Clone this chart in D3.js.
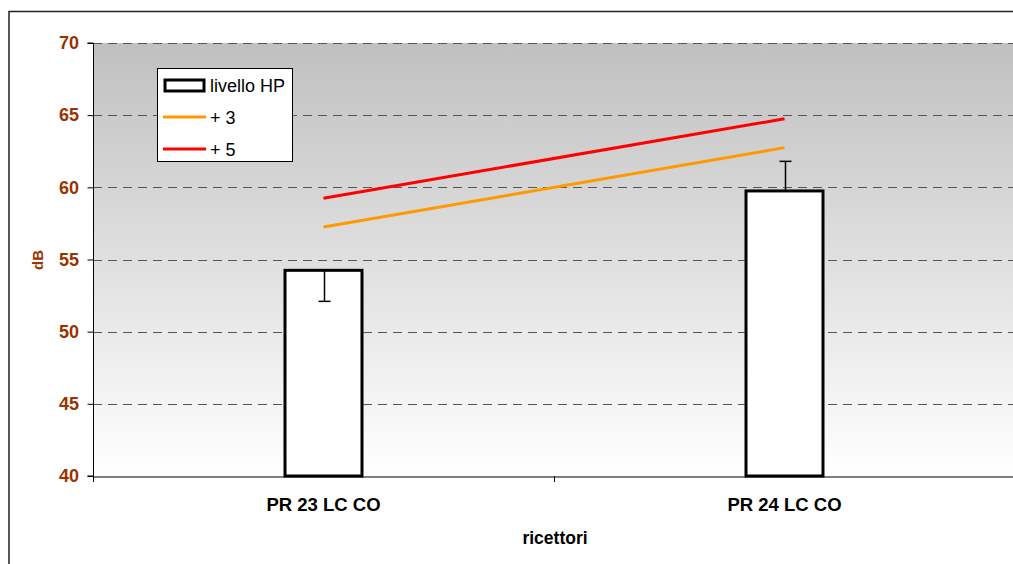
<!DOCTYPE html>
<html><head><meta charset="utf-8">
<script src="https://cdn.jsdelivr.net/npm/d3@7"></script>
<style>body{margin:0;background:#fff}svg{display:block}</style>
</head><body>
<svg id="c" width="1013" height="564"></svg>
<script>
const categories = ["PR 23 LC CO", "PR 24 LC CO"];
const livelloHP = [54.25, 59.75];
const errLow = [2.15, 0];
const errHigh = [0, 2.05];
const plus3 = [57.25, 62.75];
const plus5 = [59.25, 64.75];
const yTicks = [40, 45, 50, 55, 60, 65, 70];

const FONT = "Liberation Sans, Arial, sans-serif";
const svg = d3.select("#c");
const L = 93, R = 1015, T = 43, B = 476;
const x = d3.scaleBand().domain(categories).range([L, R]).padding(0);
const y = d3.scaleLinear().domain([40, 70]).range([B, T]);
const cx = d => x(d) + x.bandwidth() / 2;
const bw = x.bandwidth() * 0.167;

// outer border
svg.append("rect").attr("x", 9).attr("y", 11.5).attr("width", 1100).attr("height", 700)
  .attr("fill", "none").attr("stroke", "#222").attr("stroke-width", 1.5);

const defs = svg.append("defs");
const g = defs.append("linearGradient").attr("id", "bg").attr("x1", 0).attr("y1", 0).attr("x2", 0).attr("y2", 1);
g.append("stop").attr("offset", "0%").attr("stop-color", "#c0c0c0");
g.append("stop").attr("offset", "100%").attr("stop-color", "#ffffff");
svg.append("rect").attr("x", L).attr("y", T).attr("width", R - L).attr("height", B - T).attr("fill", "url(#bg)");

// gridlines
svg.append("g").selectAll("line").data(yTicks.filter(t => t > 40)).join("line")
  .attr("x1", L).attr("x2", R).attr("y1", d => Math.round(y(d)) + 0.5).attr("y2", d => Math.round(y(d)) + 0.5)
  .attr("stroke", "#555").attr("stroke-width", 1).attr("stroke-dasharray", "9,6");

// y axis
const ya = svg.append("g").attr("transform", `translate(${L + 0.5},0)`)
  .call(d3.axisLeft(y).tickValues(yTicks).tickSize(6).tickPadding(8.5).tickFormat(d3.format("d")));
ya.select(".domain").attr("stroke", "#000").attr("d", `M-6,${y(40)}H0V${y(70)}H-6`);
ya.selectAll(".tick line").attr("stroke", "#000");
ya.selectAll("text").attr("fill", "#993300").attr("font-family", FONT)
  .attr("font-size", 18).attr("font-weight", "bold");

// x axis
const xa = svg.append("g").attr("transform", `translate(0,${B + 0.5})`)
  .call(d3.axisBottom(x).tickSize(0).tickPadding(21));
xa.select(".domain").attr("stroke", "#000");
xa.selectAll("text").attr("fill", "#000").attr("font-family", FONT)
  .attr("font-size", 18.5).attr("font-weight", "bold");
xa.selectAll(".tick line").remove();
svg.append("g").selectAll("line").data([L, x(categories[1]), R]).join("line")
  .attr("x1", d => Math.round(d) + 0.5).attr("x2", d => Math.round(d) + 0.5)
  .attr("y1", B).attr("y2", B + 6).attr("stroke", "#000");

// bars
svg.append("g").selectAll("rect").data(categories).join("rect")
  .attr("x", d => cx(d) - bw / 2).attr("width", bw)
  .attr("y", (d, i) => y(livelloHP[i])).attr("height", (d, i) => y(40) - y(livelloHP[i]))
  .attr("fill", "#fff").attr("stroke", "#000").attr("stroke-width", 3);

// error bars
const eb = svg.append("g").attr("stroke", "#000").attr("stroke-width", 1.5);
categories.forEach((c, i) => {
  const xc = Math.round(cx(c)) + 0.5;
  if (errLow[i] > 0) {
    eb.append("line").attr("x1", xc).attr("x2", xc).attr("y1", y(livelloHP[i])).attr("y2", y(livelloHP[i] - errLow[i]));
    eb.append("line").attr("x1", xc - 6).attr("x2", xc + 6).attr("y1", y(livelloHP[i] - errLow[i])).attr("y2", y(livelloHP[i] - errLow[i]));
  }
  if (errHigh[i] > 0) {
    eb.append("line").attr("x1", xc).attr("x2", xc).attr("y1", y(livelloHP[i])).attr("y2", y(livelloHP[i] + errHigh[i]));
    eb.append("line").attr("x1", xc - 6).attr("x2", xc + 6).attr("y1", y(livelloHP[i] + errHigh[i])).attr("y2", y(livelloHP[i] + errHigh[i]));
  }
});

// lines
const line = d3.line().x((d, i) => cx(categories[i])).y(d => y(d));
svg.append("path").datum(plus3).attr("d", line).attr("fill", "none").attr("stroke", "#ff9900").attr("stroke-width", 3);
svg.append("path").datum(plus5).attr("d", line).attr("fill", "none").attr("stroke", "#ff0000").attr("stroke-width", 3);

// axis titles
svg.append("text").attr("transform", "translate(42.5,260) rotate(-90)").attr("text-anchor", "middle")
  .attr("font-family", FONT).attr("font-size", 15).attr("font-weight", "bold")
  .attr("fill", "#993300").text("dB");
svg.append("text").attr("x", 555).attr("y", 544).attr("text-anchor", "middle")
  .attr("font-family", FONT).attr("font-size", 17.5).attr("font-weight", "bold")
  .attr("fill", "#000").text("ricettori");

// legend
const lg = svg.append("g");
lg.append("rect").attr("x", 157.5).attr("y", 68.5).attr("width", 135).attr("height", 93)
  .attr("fill", "#fff").attr("stroke", "#000").attr("stroke-width", 1);
const items = [
  {name: "livello HP", type: "bar"},
  {name: "+ 3", type: "line", color: "#ff9900"},
  {name: "+ 5", type: "line", color: "#ff0000"}
];
const ly = [85, 117, 149];
items.forEach((it, i) => {
  if (it.type === "bar") {
    lg.append("rect").attr("x", 165).attr("y", ly[i] - 5).attr("width", 39).attr("height", 11)
      .attr("fill", "#fff").attr("stroke", "#000").attr("stroke-width", 3);
  } else {
    lg.append("line").attr("x1", 163).attr("x2", 206).attr("y1", ly[i]).attr("y2", ly[i])
      .attr("stroke", it.color).attr("stroke-width", 3);
  }
  lg.append("text").attr("x", 210).attr("y", ly[i] + 6.5).attr("font-family", FONT)
    .attr("font-size", 18).attr("fill", "#000").text(it.name);
});
</script>
</body></html>
